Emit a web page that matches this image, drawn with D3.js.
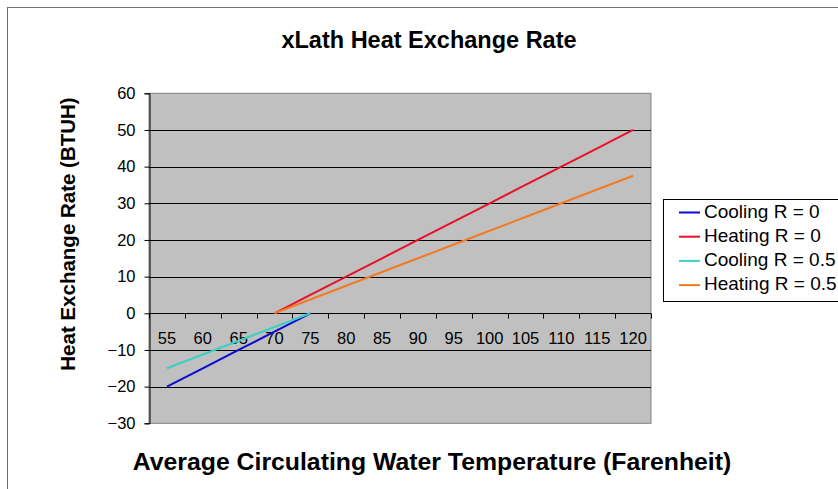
<!DOCTYPE html>
<html>
<head>
<meta charset="utf-8">
<script src="https://cdn.jsdelivr.net/npm/d3@7"></script>
<style>
  html, body { margin: 0; padding: 0; background: #fff; }
  svg { display: block; font-family: "Liberation Sans", Arial, sans-serif; }
</style>
</head>
<body>
<svg id="chart" width="838" height="489"></svg>
<script>
// ---- data ----
const categories = ["55","60","65","70","75","80","85","90","95","100","105","110","115","120"];
const coolingR0  = [-20, -15, -10, -5, 0, null, null, null, null, null, null, null, null, null];
const heatingR0  = [null, null, null, 0, 5, 10, 15, 20, 25, 30, 35, 40, 45, 50];
const coolingR05 = [-15, -11.25, -7.5, -3.75, 0, null, null, null, null, null, null, null, null, null];
const heatingR05 = [null, null, null, 0, 3.75, 7.5, 11.25, 15, 18.75, 22.5, 26.25, 30, 33.75, 37.5];
const seriesNames = ["Cooling R = 0", "Heating R = 0", "Cooling R = 0.5", "Heating R = 0.5"];
const seriesColors = ["#0a0ad2", "#e8102a", "#3ccfc4", "#f47a22"];
const yTicks = [-30, -20, -10, 0, 10, 20, 30, 40, 50, 60];
const titleText = "xLath Heat Exchange Rate";
const xTitle = "Average Circulating Water Temperature (Farenheit)";
const yTitle = "Heat Exchange Rate (BTUH)";

const seriesData = [coolingR0, heatingR0, coolingR05, heatingR05];

const svg = d3.select("#chart");

// outer chart-area border (extends beyond the canvas on right/bottom)
svg.append("rect").attr("x", 7.5).attr("y", 7.5).attr("width", 840).attr("height", 490)
  .attr("fill", "#fff").attr("stroke", "#6e6e6e").attr("stroke-width", 1);

const plotL = 149, plotR = 651, plotT = 93.3, plotB = 423.3;

const x = d3.scaleBand().domain(categories).range([plotL, plotR]).padding(0);
const y = d3.scaleLinear().domain([-30, 60]).range([plotB, plotT]);

// plot background
svg.append("rect").attr("x", plotL).attr("y", plotT).attr("width", plotR - plotL).attr("height", plotB - plotT)
  .attr("fill", "#c0c0c0").attr("stroke", "#808080").attr("stroke-width", 1);

// gridlines
svg.append("g").selectAll("line").data(yTicks.filter(d => d !== -30 && d !== 60)).join("line")
  .attr("x1", plotL).attr("x2", plotR)
  .attr("y1", d => Math.round(y(d)) + 0.5).attr("y2", d => Math.round(y(d)) + 0.5)
  .attr("stroke", "#000").attr("stroke-width", 1);

// y axis
const yAxis = svg.append("g").attr("transform", `translate(${plotL + 0.5},0)`)
  .call(d3.axisLeft(y).tickValues(yTicks).tickSize(5).tickPadding(9).tickFormat(d3.format("d")));
yAxis.select(".domain").attr("stroke", "#000");
yAxis.selectAll(".tick line").attr("stroke", "#000");
yAxis.selectAll("text").attr("font-size", 16.5).attr("fill", "#000")
  .attr("font-family", "'Liberation Sans', Arial, sans-serif");

// x axis at y = 0 (category axis with boundary ticks)
const x0 = Math.round(y(0)) + 0.5;
const xg = svg.append("g");
xg.append("line").attr("x1", plotL).attr("x2", plotR).attr("y1", x0).attr("y2", x0).attr("stroke", "#000");
const boundaries = categories.map(c => x(c)).concat([x(categories[categories.length - 1]) + x.bandwidth()]);
xg.selectAll("line.tk").data(boundaries).join("line").attr("class", "tk")
  .attr("x1", d => Math.round(d) + 0.5).attr("x2", d => Math.round(d) + 0.5)
  .attr("y1", x0).attr("y2", x0 + 5).attr("stroke", "#000");
xg.selectAll("text").data(categories).join("text")
  .attr("x", d => x(d) + x.bandwidth() / 2).attr("y", x0 + 26)
  .attr("text-anchor", "middle").attr("dominant-baseline", "middle")
  .attr("font-size", 16.5).attr("fill", "#000").text(d => d);

// lines
const line = d3.line()
  .defined(d => d.v !== null)
  .x(d => x(d.c) + x.bandwidth() / 2)
  .y(d => y(d.v));
seriesData.forEach((vals, i) => {
  const pts = categories.map((c, j) => ({ c, v: vals[j] }));
  svg.append("path").datum(pts).attr("d", line)
    .attr("fill", "none").attr("stroke", seriesColors[i]).attr("stroke-width", 2);
});

// title
svg.append("text").attr("x", 429).attr("y", 42).attr("text-anchor", "middle")
  .attr("dominant-baseline", "middle").attr("font-size", 23.5).attr("font-weight", "bold")
  .attr("fill", "#000").text(titleText);

// x title
svg.append("text").attr("x", 432).attr("y", 463).attr("text-anchor", "middle")
  .attr("dominant-baseline", "middle").attr("font-size", 24.8).attr("font-weight", "bold")
  .attr("fill", "#000").text(xTitle);

// y title
svg.append("text").attr("transform", "translate(70,234) rotate(-90)").attr("text-anchor", "middle")
  .attr("dominant-baseline", "middle").attr("font-size", 20.5).attr("font-weight", "bold")
  .attr("fill", "#000").text(yTitle);

// legend
const lg = svg.append("g");
lg.append("rect").attr("x", 663.5).attr("y", 199.5).attr("width", 200).attr("height", 102)
  .attr("fill", "#fff").attr("stroke", "#000").attr("stroke-width", 1);
seriesNames.forEach((name, i) => {
  const cy = 212.5 + i * 24.2;
  lg.append("line").attr("x1", 679).attr("x2", 700).attr("y1", cy).attr("y2", cy)
    .attr("stroke", seriesColors[i]).attr("stroke-width", 2);
  lg.append("text").attr("x", 704).attr("y", cy).attr("dominant-baseline", "middle")
    .attr("font-size", 19).attr("fill", "#000").text(name);
});
</script>
</body>
</html>
